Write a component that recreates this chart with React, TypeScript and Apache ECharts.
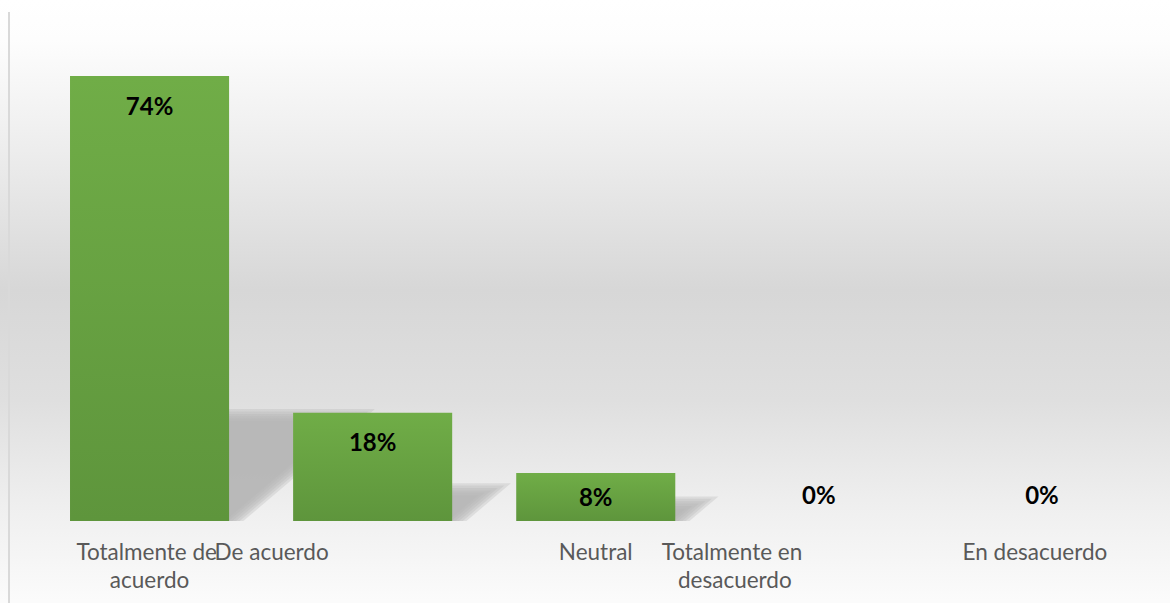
import React, { useEffect, useRef } from "react";
import * as echarts from "echarts";

const categories = [
  "Totalmente de acuerdo",
  "De acuerdo",
  "Neutral",
  "Totalmente en desacuerdo",
  "En desacuerdo",
];
const values = [74, 18, 8, 0, 0];
// horizontal label drift (Excel-like layout), px
const labelShift = [0, -101, 0, -84, -7];

export default function App() {
  const ref = useRef<HTMLDivElement>(null);
  useEffect(() => {
    if (!ref.current) return;
    const chart = echarts.init(ref.current, null, { renderer: "svg" });
    const option: any = {
      animation: false,
      backgroundColor: "transparent",
      graphic: [
        {
          type: "line",
          shape: { x1: 9, y1: 12, x2: 9, y2: 603 },
          style: { stroke: "#d9d9d9", lineWidth: 2 },
          silent: true,
        },
      ],
      grid: { left: 38, right: 16.5, top: 40, bottom: 82 },
      xAxis: {
        type: "category",
        data: categories.map((c, i) => ({
          value: c,
          textStyle: {
            padding: labelShift[i] < 0 ? [0, -2 * labelShift[i], 0, 0] : 0,
          },
        })),
        axisLine: { show: false },
        axisTick: { show: false },
        axisLabel: {
          interval: 0,
          hideOverlap: false,
          margin: 16,
          color: "#595959",
          fontFamily: "Lato",
          fontSize: 22.5,
          lineHeight: 28,
          width: 152,
          overflow: "break",
        },
      },
      yAxis: { type: "value", min: 0, max: 80, show: false, splitLine: { show: false } },
      series: [
        {
          type: "custom",
          z: 1,
          silent: true,
          data: values.map((v, i) => [i, v]),
          renderItem: (params: any, api: any) => {
            const v = api.value(1);
            if (!v) return null;
            const base = api.coord([api.value(0), 0]);
            const top = api.coord([api.value(0), v]);
            const bw = api.size([1, 0])[0] * 0.713;
            const xr = base[0] + bw / 2;
            const yb = base[1];
            const h = yb - top[1];
            const H = 0.22 * h + 8;
            const layers = [];
            const n = 6;
            for (let k = 0; k < n; k++) {
              const d = -6 + k * 2.4;
              const yt = yb - H + d;
              const xBot = xr + 5 - 1.54 * d;
              const xTop = xBot + (yb - yt) / 0.85;
              layers.push({
                type: "polygon",
                shape: {
                  points: [
                    [Math.min(xr, xBot), yb],
                    [xr - 1, yt],
                    [xTop, yt],
                    [xBot, yb],
                  ],
                },
                style: { fill: "#b2b2b2", opacity: 0.3 },
              });
            }
            return { type: "group", children: layers };
          },
        },
        {
          type: "bar",
          z: 2,
          barWidth: "71.3%",
          data: values.map((v) => ({
            value: v,
            label:
              v === 0
                ? { position: "top", distance: 15 }
                : v < 10
                ? { position: "inside" }
                : {},
          })),
          itemStyle: {
            color: new echarts.graphic.LinearGradient(0, 0, 0, 1, [
              { offset: 0, color: "#70ad47" },
              { offset: 1, color: "#5e953c" },
            ]),
          },
          label: {
            show: true,
            position: "insideTop",
            distance: 17,
            formatter: (p: any) => p.value + "%",
            color: "#000000",
            fontFamily: "Lato",
            fontWeight: "bold",
            fontSize: 24,
            lineHeight: 24,
          },
        },
      ],
    };
    chart.setOption(option);
    return () => chart.dispose();
  }, []);
  return (
    <div
      ref={ref}
      style={{
        position: "absolute",
        left: 0,
        top: 0,
        width: 1170,
        height: 603,
        background:
          "linear-gradient(to bottom, #ffffff 0px, #fdfdfd 40px, #ededed 150px, #d7d7d7 290px, #dfdfdf 400px, #eeeeee 500px, #fbfbfb 600px)",
      }}
    />
  );
}
